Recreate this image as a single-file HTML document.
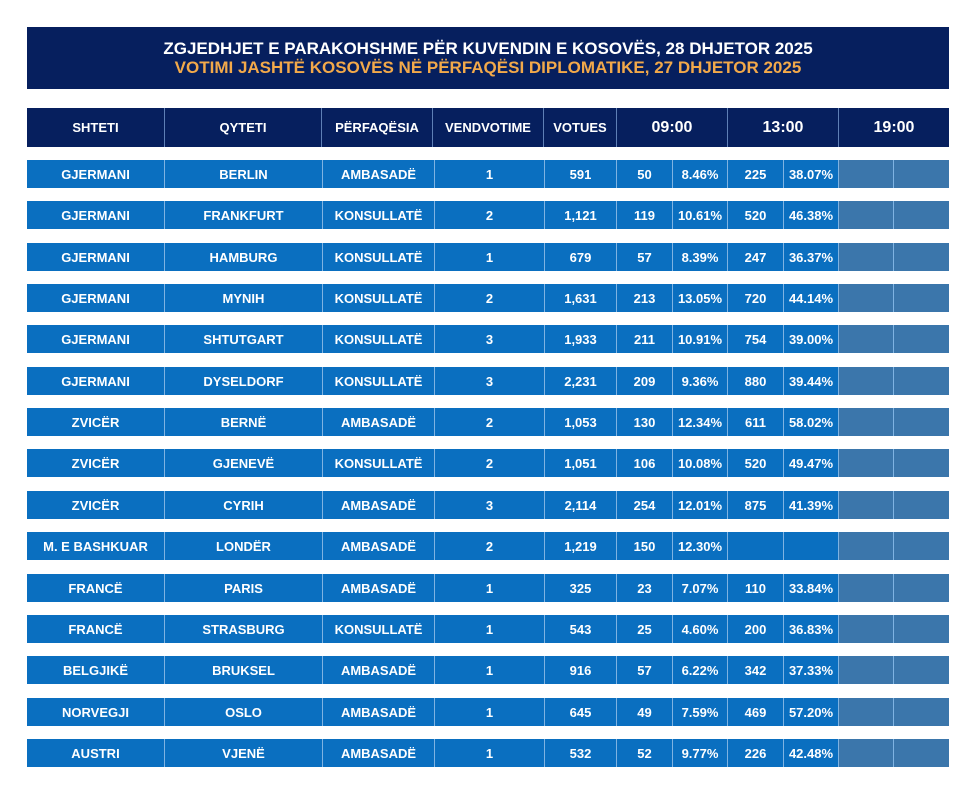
<!DOCTYPE html>
<html><head><meta charset="utf-8">
<style>
*{margin:0;padding:0;box-sizing:border-box}
body{width:980px;height:796px;background:#fff;position:relative;overflow:hidden;font-family:"Liberation Sans",Arial,sans-serif;font-weight:bold;color:#fff}
.title{position:absolute;left:27px;top:27px;width:922px;height:62px;background:#061f5e;text-align:center;font-size:17px;line-height:18.5px;padding-top:13px}
.title .o{color:#f2a94a}
.row{position:absolute;left:27px;width:922px;display:flex}
.hdr{top:108px;height:39px;background:#061f5e;font-size:13px}
.hdr div{display:flex;align-items:center;justify-content:center;border-left:1px solid #5e7fb6;height:100%}
.hdr div:first-child{border-left:none}
.hdr .t{font-size:16px}
.d{height:28px;background:#0a6fc0;font-size:13px}
.d div{display:flex;align-items:center;justify-content:center;border-left:1px solid #7fb3e2;height:100%}
.d div:first-child{border-left:none}
.d .g{background:#3b76ab}
</style></head><body>
<div class="title">ZGJEDHJET E PARAKOHSHME PËR KUVENDIN E KOSOVËS, 28 DHJETOR 2025<br><span class="o">VOTIMI JASHTË KOSOVËS NË PËRFAQËSI DIPLOMATIKE, 27 DHJETOR 2025</span></div>
<div class="row hdr">
<div style="width:137px">SHTETI</div><div style="width:157px">QYTETI</div><div style="width:111px">PËRFAQËSIA</div><div style="width:111px">VENDVOTIME</div><div style="width:73px">VOTUES</div><div class="t" style="width:111px">09:00</div><div class="t" style="width:111px">13:00</div><div class="t" style="width:111px">19:00</div>
</div>

<div class="row d" style="top:160px"><div style="width:137px">GJERMANI</div><div style="width:158px">BERLIN</div><div style="width:112px">AMBASADË</div><div style="width:110px">1</div><div style="width:72px">591</div><div style="width:56px">50</div><div style="width:55px">8.46%</div><div style="width:56px">225</div><div style="width:55px">38.07%</div><div class="g" style="width:55px"></div><div class="g" style="width:56px"></div></div>

<div class="row d" style="top:201px"><div style="width:137px">GJERMANI</div><div style="width:158px">FRANKFURT</div><div style="width:112px">KONSULLATË</div><div style="width:110px">2</div><div style="width:72px">1,121</div><div style="width:56px">119</div><div style="width:55px">10.61%</div><div style="width:56px">520</div><div style="width:55px">46.38%</div><div class="g" style="width:55px"></div><div class="g" style="width:56px"></div></div>

<div class="row d" style="top:243px"><div style="width:137px">GJERMANI</div><div style="width:158px">HAMBURG</div><div style="width:112px">KONSULLATË</div><div style="width:110px">1</div><div style="width:72px">679</div><div style="width:56px">57</div><div style="width:55px">8.39%</div><div style="width:56px">247</div><div style="width:55px">36.37%</div><div class="g" style="width:55px"></div><div class="g" style="width:56px"></div></div>

<div class="row d" style="top:284px"><div style="width:137px">GJERMANI</div><div style="width:158px">MYNIH</div><div style="width:112px">KONSULLATË</div><div style="width:110px">2</div><div style="width:72px">1,631</div><div style="width:56px">213</div><div style="width:55px">13.05%</div><div style="width:56px">720</div><div style="width:55px">44.14%</div><div class="g" style="width:55px"></div><div class="g" style="width:56px"></div></div>

<div class="row d" style="top:325px"><div style="width:137px">GJERMANI</div><div style="width:158px">SHTUTGART</div><div style="width:112px">KONSULLATË</div><div style="width:110px">3</div><div style="width:72px">1,933</div><div style="width:56px">211</div><div style="width:55px">10.91%</div><div style="width:56px">754</div><div style="width:55px">39.00%</div><div class="g" style="width:55px"></div><div class="g" style="width:56px"></div></div>

<div class="row d" style="top:367px"><div style="width:137px">GJERMANI</div><div style="width:158px">DYSELDORF</div><div style="width:112px">KONSULLATË</div><div style="width:110px">3</div><div style="width:72px">2,231</div><div style="width:56px">209</div><div style="width:55px">9.36%</div><div style="width:56px">880</div><div style="width:55px">39.44%</div><div class="g" style="width:55px"></div><div class="g" style="width:56px"></div></div>

<div class="row d" style="top:408px"><div style="width:137px">ZVICËR</div><div style="width:158px">BERNË</div><div style="width:112px">AMBASADË</div><div style="width:110px">2</div><div style="width:72px">1,053</div><div style="width:56px">130</div><div style="width:55px">12.34%</div><div style="width:56px">611</div><div style="width:55px">58.02%</div><div class="g" style="width:55px"></div><div class="g" style="width:56px"></div></div>

<div class="row d" style="top:449px"><div style="width:137px">ZVICËR</div><div style="width:158px">GJENEVË</div><div style="width:112px">KONSULLATË</div><div style="width:110px">2</div><div style="width:72px">1,051</div><div style="width:56px">106</div><div style="width:55px">10.08%</div><div style="width:56px">520</div><div style="width:55px">49.47%</div><div class="g" style="width:55px"></div><div class="g" style="width:56px"></div></div>

<div class="row d" style="top:491px"><div style="width:137px">ZVICËR</div><div style="width:158px">CYRIH</div><div style="width:112px">AMBASADË</div><div style="width:110px">3</div><div style="width:72px">2,114</div><div style="width:56px">254</div><div style="width:55px">12.01%</div><div style="width:56px">875</div><div style="width:55px">41.39%</div><div class="g" style="width:55px"></div><div class="g" style="width:56px"></div></div>

<div class="row d" style="top:532px"><div style="width:137px">M. E BASHKUAR</div><div style="width:158px">LONDËR</div><div style="width:112px">AMBASADË</div><div style="width:110px">2</div><div style="width:72px">1,219</div><div style="width:56px">150</div><div style="width:55px">12.30%</div><div style="width:56px"></div><div style="width:55px"></div><div class="g" style="width:55px"></div><div class="g" style="width:56px"></div></div>

<div class="row d" style="top:574px"><div style="width:137px">FRANCË</div><div style="width:158px">PARIS</div><div style="width:112px">AMBASADË</div><div style="width:110px">1</div><div style="width:72px">325</div><div style="width:56px">23</div><div style="width:55px">7.07%</div><div style="width:56px">110</div><div style="width:55px">33.84%</div><div class="g" style="width:55px"></div><div class="g" style="width:56px"></div></div>

<div class="row d" style="top:615px"><div style="width:137px">FRANCË</div><div style="width:158px">STRASBURG</div><div style="width:112px">KONSULLATË</div><div style="width:110px">1</div><div style="width:72px">543</div><div style="width:56px">25</div><div style="width:55px">4.60%</div><div style="width:56px">200</div><div style="width:55px">36.83%</div><div class="g" style="width:55px"></div><div class="g" style="width:56px"></div></div>

<div class="row d" style="top:656px"><div style="width:137px">BELGJIKË</div><div style="width:158px">BRUKSEL</div><div style="width:112px">AMBASADË</div><div style="width:110px">1</div><div style="width:72px">916</div><div style="width:56px">57</div><div style="width:55px">6.22%</div><div style="width:56px">342</div><div style="width:55px">37.33%</div><div class="g" style="width:55px"></div><div class="g" style="width:56px"></div></div>

<div class="row d" style="top:698px"><div style="width:137px">NORVEGJI</div><div style="width:158px">OSLO</div><div style="width:112px">AMBASADË</div><div style="width:110px">1</div><div style="width:72px">645</div><div style="width:56px">49</div><div style="width:55px">7.59%</div><div style="width:56px">469</div><div style="width:55px">57.20%</div><div class="g" style="width:55px"></div><div class="g" style="width:56px"></div></div>

<div class="row d" style="top:739px"><div style="width:137px">AUSTRI</div><div style="width:158px">VJENË</div><div style="width:112px">AMBASADË</div><div style="width:110px">1</div><div style="width:72px">532</div><div style="width:56px">52</div><div style="width:55px">9.77%</div><div style="width:56px">226</div><div style="width:55px">42.48%</div><div class="g" style="width:55px"></div><div class="g" style="width:56px"></div></div>
</body></html>
